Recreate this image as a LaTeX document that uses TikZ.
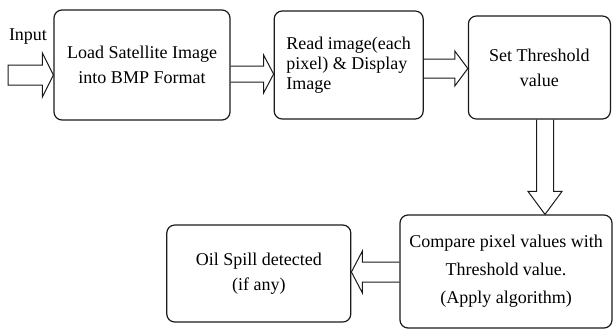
\documentclass[tikz,border=0pt]{standalone}
\usepackage{fontspec}
\setmainfont{Liberation Serif}
\usetikzlibrary{positioning,calc}
\definecolor{flowink}{HTML}{1A1A1A}

\begin{document}
\begin{tikzpicture}[x=1pt, y=1pt, font=\fontsize{18}{25}\selectfont,
    box/.style={draw=flowink, line width=1.2pt, rounded corners=8pt,
        text=black, align=center, inner sep=2pt},
    fatline/.style={draw=flowink, line width=1pt, line join=miter}]
  \useasboundingbox (0,0) rectangle (613,-330);
  % top row
  \node[box, minimum width=176pt, minimum height=110pt] (load) at (142,-65)
      {Load Satellite Image\\into BMP Format};
  \node[box, align=left, minimum width=149pt, minimum height=108pt,
      font=\fontsize{18}{20}\selectfont, right=43pt of load] (read)
      {Read image(each\\pixel) \& Display\\Image};
  \node[box, minimum width=142pt, minimum height=103pt,
      right=44pt of read, yshift=-2.5pt] (thresh) {Set Threshold\\value};
  % bottom row
  \node[box, minimum width=212pt, minimum height=113pt,
      font=\fontsize{18}{28}\selectfont] (compare) at (506,-271.5)
      {Compare pixel values with\\Threshold value.\\(Apply algorithm)};
  \node[box, minimum width=184pt, minimum height=97pt,
      left=48pt of compare, yshift=-2pt] (oil) {Oil Spill detected\\(if any)};
  \node[inner sep=0pt] (inlabel) at (28,-37) {Input};
  \coordinate (in) at (8,-75);

  % block arrows
  \draw[fatline] let \p1=(in), \p2=([yshift=-10pt]load.west) in
    (\x1,\y2+10pt) -- (\x2-11pt,\y2+10pt) -- (\x2-11pt,\y2+22pt) -- (\p2)
    -- (\x2-11pt,\y2-22pt) -- (\x2-11pt,\y2-10pt) -- (\x1,\y2-10pt) -- cycle;
  \draw[fatline] let \p1=(load.east), \p2=([yshift=-9pt]read.west) in
    (\x1,\y2+8pt) -- (\x2-10pt,\y2+8pt) -- (\x2-10pt,\y2+19pt) -- (\p2)
    -- (\x2-10pt,\y2-19pt) -- (\x2-10pt,\y2-8pt) -- (\x1,\y2-8pt);
  \draw[fatline] let \p1=(read.east), \p2=([yshift=-1pt]thresh.west) in
    (\x1,\y2+9.5pt) -- (\x2-13pt,\y2+9.5pt) -- (\x2-13pt,\y2+17.5pt) -- (\p2)
    -- (\x2-13pt,\y2-17.5pt) -- (\x2-13pt,\y2-9.5pt) -- (\x1,\y2-9.5pt);
  \draw[fatline] let \p1=(thresh.south), \p2=([xshift=39pt]compare.north) in
    (\x2-8.5pt,\y1) -- (\x2-8.5pt,\y2+23pt) -- (\x2-17pt,\y2+23pt) -- (\p2)
    -- (\x2+17pt,\y2+23pt) -- (\x2+8.5pt,\y2+23pt) -- (\x2+8.5pt,\y1);
  \draw[fatline] let \p1=(compare.west), \p2=([yshift=1.5pt]oil.east) in
    (\x1,\y2+10pt) -- (\x2+11pt,\y2+10pt) -- (\x2+11pt,\y2+21pt) -- (\p2)
    -- (\x2+11pt,\y2-21pt) -- (\x2+11pt,\y2-10pt) -- (\x1,\y2-10pt);
\end{tikzpicture}
\end{document}
